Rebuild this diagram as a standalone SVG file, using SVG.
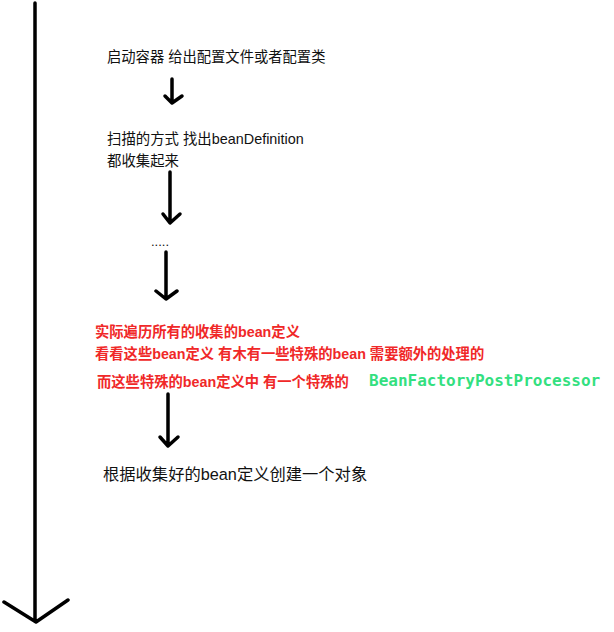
<svg xmlns="http://www.w3.org/2000/svg" width="614" height="632" viewBox="0 0 614 632">
<style>
.t{font-family:"Liberation Sans","Noto Sans CJK SC",sans-serif;fill:#111}
.r{font-family:"Liberation Sans","Noto Sans CJK SC",sans-serif;fill:#f02828;font-size:14.3px;font-weight:bold}
.g{font-family:"DejaVu Sans Mono","Liberation Mono",monospace;fill:#33e07f;font-size:16px;font-weight:bold}
.a{fill:none;stroke:#000;stroke-width:3.5;stroke-linecap:round;stroke-linejoin:round}
</style>
<rect width="614" height="632" fill="#fff"/>
<g id="connectors">
<path class="a" d="M35 3V621M4 602L36 622L68 600"/>
<path class="a" d="M172 79V103M165 96L172 103L182 96"/>
<path class="a" d="M170 172V222M163 214L170 223L180 214"/>
<path class="a" d="M166 252V299M156 291L166 299L177 291"/>
<path class="a" d="M168 394V445M160 437L168 446L178 437"/>
</g>
<g id="n1"><text class="t" x="107" y="62" font-size="14.3">启动容器 给出配置文件或者配置类</text></g>
<g id="n2"><text class="t" x="107" y="144" font-size="14.4">扫描的方式 找出beanDefinition</text><text class="t" x="107" y="166" font-size="14.4">都收集起来</text></g>
<g id="n3"><text class="t" x="151" y="246" font-size="13">.....</text></g>
<g id="n4"><text class="r" x="95" y="337">实际遍历所有的收集的bean定义</text><text class="r" x="95" y="359">看看这些bean定义 有木有一些特殊的bean 需要额外的处理的</text><text class="r" x="97" y="387">而这些特殊的bean定义中 有一个特殊的</text><text class="g" x="369" y="386">BeanFactoryPostProcessor</text></g>
<g id="n5"><text class="t" x="103" y="480" font-size="16.3">根据收集好的bean定义创建一个对象</text></g>
</svg>
